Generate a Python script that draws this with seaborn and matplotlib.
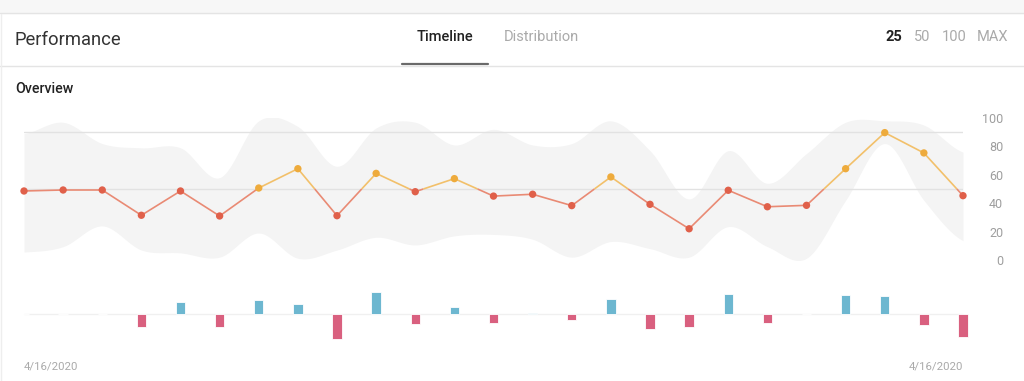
import numpy as np
import pandas as pd
import matplotlib
matplotlib.use("Agg")
import matplotlib.pyplot as plt
import seaborn as sns
from matplotlib.lines import Line2D
from matplotlib.patches import Rectangle

# data
values = [48.6, 49.3, 49.3, 31.5, 48.6, 31.0, 50.7, 64.3, 31.2, 61.0, 48.1, 57.3, 45.0,
          46.3, 38.3, 58.5, 39.2, 22.0, 49.1, 37.5, 38.5, 64.3, 89.7, 75.4, 45.3]
band_upper = [89, 97, 82, 79, 79, 58, 98, 94, 66, 93, 97, 81, 92,
              81, 82, 98, 77, 43, 77, 54, 75, 97, 98, 95, 76]
band_lower = [5.6, 9.4, 24, 7, 5, 2, 19, 1.2, 7, 16, 10.6, 17, 18,
              14.6, 2, 13, 8, 2, 23.5, 9.4, 1.2, 42, 82, 42, 13.6]
threshold = 50
ref_lines = [90, 50]
y_ticks = [0, 20, 40, 60, 80, 100]
date_start = "4/16/2020"
date_end = "4/16/2020"
page_sizes = ["25", "50", "100", "MAX"]

RED = "#e0604a"
RED_LINE = "#e98a74"
ORANGE = "#eeab3c"
ORANGE_LINE = "#f2c06a"
BLUE = "#6db7d0"
PINK = "#d9607f"

df = pd.DataFrame({"idx": np.arange(len(values)), "value": values})
df["level"] = np.where(df["value"] > threshold, "high", "low")
df["change"] = df["value"].diff().fillna(0)
df["dir"] = np.where(df["change"] >= 0, "up", "down")


def smooth(x, y, n=20):
    # catmull-rom curve through the points
    x = np.asarray(x, float)
    y = np.asarray(y, float)
    px = np.concatenate([[2 * x[0] - x[1]], x, [2 * x[-1] - x[-2]]])
    py = np.concatenate([[y[0]], y, [y[-1]]])
    xs, ys = [], []
    for i in range(1, len(px) - 2):
        t = np.linspace(0, 1, n, endpoint=False)
        for p, out in ((px, xs), (py, ys)):
            p0, p1, p2, p3 = p[i - 1], p[i], p[i + 1], p[i + 2]
            out.append(0.5 * ((2 * p1) + (-p0 + p2) * t + (2 * p0 - 5 * p1 + 4 * p2 - p3) * t ** 2
                              + (-p0 + 3 * p1 - 3 * p2 + p3) * t ** 3))
    xs.append([x[-1]])
    ys.append([y[-1]])
    return np.concatenate(xs), np.concatenate(ys)


sns.set_theme(style="white")
plt.rcParams["font.family"] = ["Roboto", "DejaVu Sans"]

W, H = 1024, 381
fig = plt.figure(figsize=(W / 100, H / 100), dpi=100)
fig.patch.set_facecolor("white")


def fx(px):
    return px / W


def fy(py):
    return 1 - py / H


# page chrome
fig.add_artist(Rectangle((0, fy(13)), 1, 13 / H, transform=fig.transFigure, color="#f7f7f7", zorder=0))
fig.add_artist(Line2D([0, 1], [fy(13), fy(13)], transform=fig.transFigure, color="#e4e4e4", lw=1))
fig.add_artist(Line2D([0, 1], [fy(65.5), fy(65.5)], transform=fig.transFigure, color="#e4e4e4", lw=1))
fig.add_artist(Line2D([fx(402), fx(488)], [fy(64), fy(64)], transform=fig.transFigure, color="#6a6a6a", lw=1.6))
fig.add_artist(Line2D([fx(0.5), fx(0.5)], [fy(14), 0], transform=fig.transFigure, color="#eeeeee", lw=1))

fig.text(fx(15), fy(40), "Performance", fontsize=13.2, color="#333333", va="center", ha="left")
fig.text(fx(445), fy(37), "Timeline", fontsize=10.5, color="#222222", va="center", ha="center", fontweight="medium")
fig.text(fx(541), fy(37), "Distribution", fontsize=10.5, color="#aaaaaa", va="center", ha="center")
page_x = [894, 922, 954, 993]
for i, (lab, xp) in enumerate(zip(page_sizes, page_x)):
    fig.text(fx(xp), fy(37), lab, fontsize=10.5, ha="center", va="center",
             color="#222222" if i == 0 else "#aaaaaa", fontweight="bold" if i == 0 else "normal")
fig.text(fx(15), fy(89), "Overview", fontsize=10.2, color="#222222", va="center", ha="left", fontweight="medium")

# line chart
ax = fig.add_axes([fx(24), fy(260), fx(963) - fx(24), (260 - 118) / H])
n = len(values)
sx, su = smooth(df["idx"], band_upper)
_, sl = smooth(df["idx"], band_lower)
ax.fill_between(sx, sl, su, color="#f4f4f4", lw=0, zorder=1)
for r in ref_lines:
    ax.axhline(r, color="#e2e2e2", lw=1, zorder=2)

# split each segment at the threshold so each part takes its own colour
for i in range(n - 1):
    x0, x1 = df["idx"][i], df["idx"][i + 1]
    y0, y1 = values[i], values[i + 1]
    pts = [(x0, y0)]
    if (y0 - threshold) * (y1 - threshold) < 0:
        t = (threshold - y0) / (y1 - y0)
        pts.append((x0 + t * (x1 - x0), threshold))
    pts.append((x1, y1))
    for a, b in zip(pts[:-1], pts[1:]):
        c = ORANGE_LINE if (a[1] + b[1]) / 2 > threshold else RED_LINE
        ax.plot([a[0], b[0]], [a[1], b[1]], color=c, lw=1.2, zorder=3, solid_capstyle="butt")

sns.scatterplot(data=df, x="idx", y="value", hue="level", palette={"high": ORANGE, "low": RED},
                s=28, linewidth=0, legend=False, ax=ax, zorder=4, clip_on=False)
ax.set_xlim(0, n - 1)
ax.set_ylim(0, 100)
ax.set_yticks(y_ticks)
ax.yaxis.tick_right()
ax.tick_params(axis="y", length=0, pad=29, labelsize=9, labelcolor="#9e9e9e")
for lab in ax.get_yticklabels():
    lab.set_horizontalalignment("right")
ax.set_xticks([])
ax.set_xlabel("")
ax.set_ylabel("")
for s in ax.spines.values():
    s.set_visible(False)
ax.patch.set_alpha(0)

# change bars
bx = fig.add_axes([fx(24) - 0.5 / (n - 1) * (fx(963) - fx(24)), fy(350),
                   (fx(963) - fx(24)) * n / (n - 1), 70 / H])
sns.barplot(data=df, x="idx", y="change", hue="dir", palette={"up": BLUE, "down": PINK},
            dodge=False, width=0.24, saturation=1, legend=False, ax=bx, edgecolor="white", linewidth=0.6)
bx.axhline(0, xmin=0.5 / n, xmax=1 - 0.5 / n, color="#f0f0f0", lw=1, zorder=0)
bx.set_xlim(-0.5, n - 0.5)
bx.set_ylim(-(350 - 314.3) / 0.74, (314.3 - 280) / 0.74)
bx.set_xticks([])
bx.set_yticks([])
bx.set_xlabel("")
bx.set_ylabel("")
for s in bx.spines.values():
    s.set_visible(False)
bx.patch.set_alpha(0)

fig.text(fx(24), fy(367), date_start, fontsize=8.2, color="#aaaaaa", ha="left", va="center")
fig.text(fx(963), fy(367), date_end, fontsize=8.2, color="#aaaaaa", ha="right", va="center")

fig.savefig("out.png", dpi=100)
